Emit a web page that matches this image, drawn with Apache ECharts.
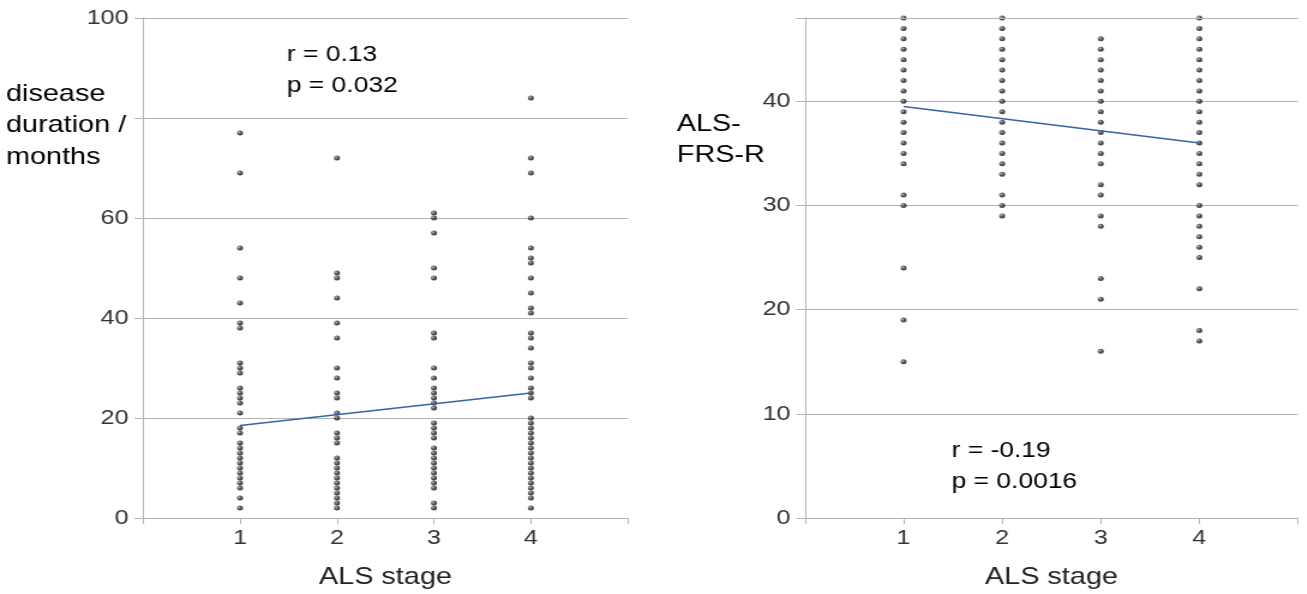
<!DOCTYPE html>
<html>
<head>
<meta charset="utf-8">
<script src="https://cdn.jsdelivr.net/npm/echarts@6/dist/echarts.min.js"></script>
<style>
html,body{margin:0;padding:0;background:#fff;overflow:hidden;width:1307px;height:594px;}
#c{width:1089px;height:594px;transform:scaleX(1.2);transform-origin:0 0;}
</style>
</head>
<body>
<div id="c"></div>
<script>
// ---- Data ----
const stages = [1, 2, 3, 4];
const xTickLabels = ['1', '2', '3', '4'];
const durationTicks = [0, 20, 40, 60, 100]; // "80" is hidden behind the axis title in the reference
const frsTicks = [0, 10, 20, 30, 40];
const frsTop = 48;
const durTitleLines = ['disease', 'duration /', 'months'];
const frsTitleLines = ['ALS-', 'FRS-R'];
const durStats = ['r = 0.13', 'p = 0.032'];
const frsStats = ['r = -0.19', 'p = 0.0016'];

// disease duration (months) per ALS stage (unique values)
const durStage1 = [77, 69, 54, 48, 43, 39, 38, 31, 30, 29, 26, 25, 24, 23, 21, 18, 17, 15, 14, 13, 12, 11, 10, 9, 8, 7, 6, 4, 2];
const durStage2 = [72, 49, 48, 44, 39, 36, 30, 28, 25, 24, 21, 20, 17, 16, 15, 12, 11, 10, 9, 8, 7, 6, 5, 4, 3, 2];
const durStage3 = [61, 60, 57, 50, 48, 37, 36, 30, 28, 26, 25, 24, 23, 22, 19, 18, 17, 16, 14, 13, 12, 11, 10, 9, 8, 7, 6, 3, 2];
const durStage4 = [84, 72, 69, 60, 54, 52, 51, 48, 45, 42, 41, 37, 36, 34, 31, 30, 28, 26, 25, 24, 20, 19, 18, 17, 16, 15, 14, 13, 12, 11, 10, 9, 8, 7, 6, 5, 4, 2];
const durTrend = [[1, 18.5], [4, 25.0]];

// ALS-FRS-R per ALS stage
const frsStage1 = [48, 47, 46, 45, 44, 43, 42, 41, 40, 39, 38, 37, 36, 35, 34, 31, 30, 24, 19, 15];
const frsStage2 = [48, 47, 46, 45, 44, 43, 42, 41, 40, 39, 38, 37, 36, 35, 34, 33, 31, 30, 29];
const frsStage3 = [46, 45, 44, 43, 42, 41, 40, 39, 38, 37, 36, 35, 34, 32, 31, 29, 28, 23, 21, 16];
const frsStage4 = [48, 47, 46, 45, 44, 43, 42, 41, 40, 39, 38, 37, 36, 35, 34, 33, 32, 30, 29, 28, 27, 26, 25, 22, 18, 17];
const frsTrend = [[1, 39.5], [4, 36.0]];

// ---- Build ----
function pts(stage, vals) { return vals.map(v => [stage, v]); }
const durPoints = [].concat(pts(1, durStage1), pts(2, durStage2), pts(3, durStage3), pts(4, durStage4));
const frsPoints = [].concat(pts(1, frsStage1), pts(2, frsStage2), pts(3, frsStage3), pts(4, frsStage4));

const FONT = 'Liberation Sans';
const GRID_COL = '#b3b3b3';
const LABEL_COL = '#333';

function xAxisCfg(gridIndex) {
  return {
    gridIndex, type: 'value', min: 0, max: 5, interval: 1,
    axisLine: { show: true, lineStyle: { color: GRID_COL, width: 1 } },
    axisTick: { show: true, length: 6, lineStyle: { color: GRID_COL } },
    splitLine: { show: false },
    axisLabel: {
      fontFamily: FONT, fontSize: 21, color: LABEL_COL, margin: 10,
      formatter: v => (stages.indexOf(v) >= 0 ? xTickLabels[stages.indexOf(v)] : '')
    },
    name: 'ALS stage', nameLocation: 'middle', nameGap: 47,
    nameTextStyle: { fontFamily: FONT, fontSize: 24, color: '#222' }
  };
}
function yAxisCfg(gridIndex, max, interval, ticks) {
  return {
    gridIndex, type: 'value', min: 0, max, interval,
    axisLine: { show: true, lineStyle: { color: GRID_COL, width: 1 } },
    axisTick: { show: true, length: 7, lineStyle: { color: GRID_COL } },
    splitLine: { show: true, lineStyle: { color: GRID_COL, width: 1 } },
    axisLabel: {
      fontFamily: FONT, fontSize: 21, color: LABEL_COL, margin: 12,
      formatter: v => (ticks.indexOf(v) >= 0 ? String(v) : '')
    }
  };
}
const dotStyle = {
  color: {
    type: 'radial', x: 0.35, y: 0.35, r: 0.7,
    colorStops: [{ offset: 0, color: '#b0b0b0' }, { offset: 0.45, color: '#333' }, { offset: 1, color: '#0d0d0d' }]
  }
};

function textLines(lines, left, top, lh, size) {
  return lines.map((t, i) => ({
    type: 'text', left, top: top + i * lh,
    style: { text: t, font: size + 'px "Liberation Sans"', fill: '#000' }
  }));
}

const chart = echarts.init(document.getElementById('c'), null, { renderer: 'canvas', width: 1089, height: 594 });
chart.setOption({
  animation: false,
  backgroundColor: '#fff',
  grid: [
    { left: 119.2, right: 565.8, top: 18, bottom: 75 },
    { left: 670.8, right: 7.4, top: 18, bottom: 74 }
  ],
  xAxis: [xAxisCfg(0), xAxisCfg(1)],
  yAxis: [yAxisCfg(0, 100, 20, durationTicks), yAxisCfg(1, frsTop, 10, frsTicks)],
  series: [
    { type: 'scatter', xAxisIndex: 0, yAxisIndex: 0, data: durPoints, symbolSize: 5, itemStyle: dotStyle, z: 3 },
    { type: 'line', xAxisIndex: 0, yAxisIndex: 0, data: durTrend, showSymbol: false, symbol: 'none',
      lineStyle: { color: '#3465a4', width: 1.5 }, z: 4 },
    { type: 'scatter', xAxisIndex: 1, yAxisIndex: 1, data: frsPoints, symbolSize: 5, itemStyle: dotStyle, z: 3,
      markLine: { silent: true, symbol: 'none', label: { show: false }, animation: false,
        lineStyle: { color: GRID_COL, width: 1, type: 'solid' }, data: [{ yAxis: frsTop }] } },
    { type: 'line', xAxisIndex: 1, yAxisIndex: 1, data: frsTrend, showSymbol: false, symbol: 'none',
      lineStyle: { color: '#3465a4', width: 1.5 }, z: 4 }
  ],
  graphic: [].concat(
    textLines(durStats, 239, 44, 31, 22),
    textLines(frsStats, 793, 440, 31, 22),
    textLines(durTitleLines, 5, 82, 31.7, 24),
    textLines(frsTitleLines, 564, 112, 31.7, 24)
  )
});
</script>
</body>
</html>
